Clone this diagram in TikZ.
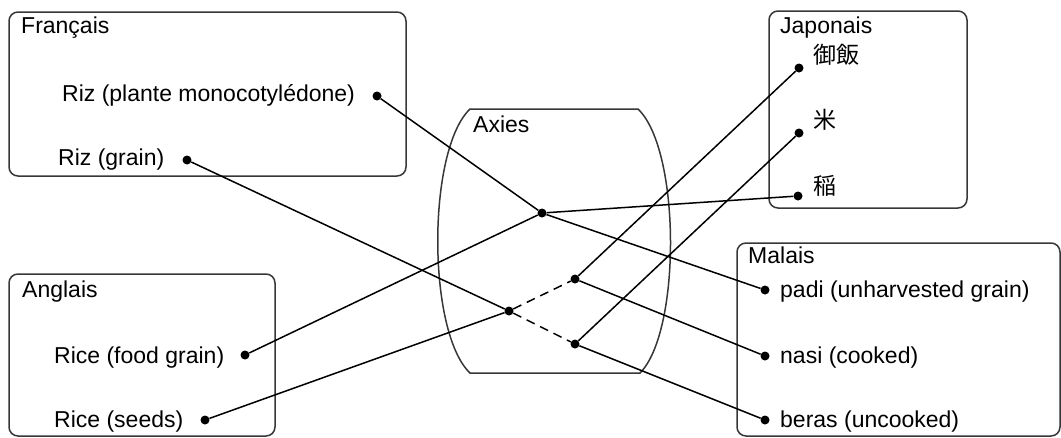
\documentclass[tikz,border=0pt]{standalone}
\usepackage{fontspec}
\setmainfont{Liberation Sans}
\newfontfamily\jpfont{Noto Sans CJK JP}

\definecolor{BoxColor}{RGB}{55,55,55}

\tikzset{
	langbox/.style={draw=BoxColor, line width=1.5pt, rounded corners=9pt},
	axisbox/.style={draw=BoxColor, line width=1.5pt},
	word/.style={anchor=base west, inner sep=0pt, font=\fontsize{23}{27}\selectfont},
	dot/.style={circle, fill=black, inner sep=0pt, minimum size=9pt},
	link/.style={line width=1.5pt},
	guess/.style={link, dash pattern=on 9pt off 6pt},
}

\begin{document}
\begin{tikzpicture}[x=1pt,y=-1pt]
	\useasboundingbox (0,0) rectangle (1061,437);

	\draw [langbox] (9,12) rectangle (406,176);
	\draw [langbox] (769,11) rectangle (967,208);
	\draw [langbox] (9,274) rectangle (275,436);
	\draw [langbox] (737,243) rectangle (1060,436);
	\draw [axisbox] (470,109) -- (638,109) .. controls (681,150) and (681,332) .. (640,373)
		-- (470,373) .. controls (427,332) and (427,150) .. (470,109) -- cycle;

	\node [word] (fr) at (21,33) {Français};
	\node [word] (frPlanteText) at (62,101) {Riz (plante monocotylédone)};
	\node [word] (frGrainText) at (58,165) {Riz (grain)};
	\node [word] (jp) at (780,33) {Japonais};
	\node [word] (jpGohanText) at (813,63) {\jpfont 御飯};
	\node [word] (jpKomeText) at (813,128) {\jpfont 米};
	\node [word] (jpIneText) at (813,194) {\jpfont 稲};
	\node [word] (en) at (22,297) {Anglais};
	\node [word] (enFoodText) at (54,363) {Rice (food grain)};
	\node [word] (enSeedsText) at (54,427) {Rice (seeds)};
	\node [word] (ms) at (748,263) {Malais};
	\node [word] (msPadiText) at (780,297) {padi (unharvested grain)};
	\node [word] (msNasiText) at (780,363) {nasi (cooked)};
	\node [word] (msBerasText) at (780,427) {beras (uncooked)};
	\node [word] (ax) at (473,132) {Axies};

	\node [dot] (frPlante) at (377,96) {};
	\node [dot] (frGrain) at (187,160) {};
	\node [dot] (jpGohan) at (799,68) {};
	\node [dot] (jpKome) at (799,133) {};
	\node [dot] (jpIne) at (798,196) {};
	\node [dot] (enFood) at (245,355) {};
	\node [dot] (enSeeds) at (205,420) {};
	\node [dot] (msPadi) at (765,290) {};
	\node [dot] (msNasi) at (765,356) {};
	\node [dot] (msBeras) at (765,420) {};
	\node [dot] (axA) at (542,213) {};
	\node [dot] (axB) at (575,279) {};
	\node [dot] (axC) at (509,311) {};
	\node [dot] (axD) at (575,344) {};

	\draw [link] (frPlante) -- (axA);
	\draw [link] (axA) -- (jpIne);
	\draw [link] (axA) -- (enFood);
	\draw [link] (axA) -- (msPadi);
	\draw [link] (frGrain) -- (axC);
	\draw [link] (enSeeds) -- (axC);
	\draw [guess] (axC) -- (axB);
	\draw [guess] (axC) -- (axD);
	\draw [link] (axB) -- (jpGohan);
	\draw [link] (axB) -- (msNasi);
	\draw [link] (axD) -- (jpKome);
	\draw [link] (axD) -- (msBeras);
\end{tikzpicture}
\end{document}
